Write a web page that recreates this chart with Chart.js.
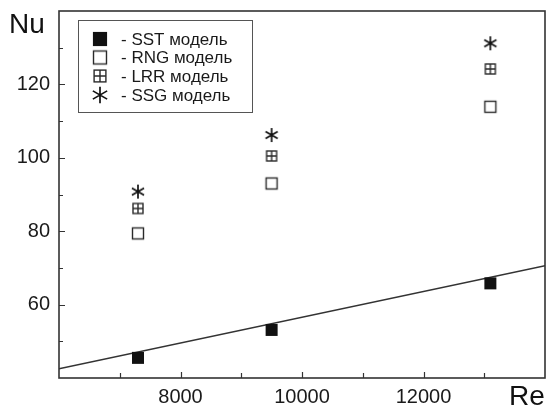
<!DOCTYPE html>
<html>
<head>
<meta charset="utf-8">
<script src="https://cdn.jsdelivr.net/npm/chart.js@4.4.0/dist/chart.umd.min.js"></script>
<style>
  html, body { margin: 0; padding: 0; background: #fff; }
  #wrap { width: 550px; height: 409px; }
</style>
</head>
<body>
<div id="wrap"><canvas id="nuChart" width="550" height="409"></canvas></div>
<script>
// Re numbers of the three runs and Nu from each turbulence model
const re = [7300, 9500, 13100];
const sst = [45.5, 53.1, 65.8];
const rng = [79.4, 93.0, 113.9];
const lrr = [86.2, 100.5, 124.2];
const ssg = [90.8, 106.2, 131.2];

// straight correlation line, ends at the axis limits
const fitRe = [6000, 14000];
const fitNu = [42.5, 70.6];

const xTicks = [8000, 10000, 12000];
const yTicks = [60, 80, 100, 120];

const labels = ['- SST модель', '- RNG модель', '- LRR модель', '- SSG модель'];

const FONT = '"Liberation Sans", Arial, sans-serif';
const INK = '#1a1a1a';

// marker images for the point styles
function marker(kind, k) {
    const c = document.createElement('canvas');
    c.width = 18; c.height = 18;
    const g = c.getContext('2d');
    g.translate(9, 9);
    g.scale(k, k);
    g.strokeStyle = '#2a2a2a';
    g.fillStyle = '#111';
    g.lineWidth = 1.4 / k;
    if (kind === 'fill') {
        g.fillRect(-6, -6, 12, 12);
    } else if (kind === 'open') {
        g.strokeRect(-5.5, -5.5, 11, 11);
    } else if (kind === 'grid') {
        g.strokeRect(-5, -5, 10, 10);
        g.beginPath();
        g.moveTo(0, -5); g.lineTo(0, 5);
        g.moveTo(-5, 0); g.lineTo(5, 0);
        g.stroke();
    } else {
        g.lineWidth = 1.7 / k;
        g.strokeStyle = '#111';
        g.beginPath();
        for (let i = 0; i < 3; i++) {
            const a = Math.PI / 2 + i * Math.PI / 3;
            const dx = Math.cos(a) * 7, dy = Math.sin(a) * 7;
            g.moveTo(-dx, -dy); g.lineTo(dx, dy);
        }
        g.stroke();
    }
    return c;
}

const kinds = ['fill', 'open', 'grid', 'star'];
const styles = kinds.map(k => marker(k, 1));
const keyStyles = kinds.map(k => marker(k, 1.18));

function pts(ys) {
    return re.map((x, i) => ({ x: x, y: ys[i] }));
}

// frame, inward ticks, axis names and the boxed legend
const decor = {
    id: 'decor',
    afterDraw(chart) {
        const ctx = chart.ctx;
        const a = chart.chartArea;
        const xs = chart.scales.x, ys = chart.scales.y;
        ctx.save();
        ctx.strokeStyle = '#333';
        ctx.lineWidth = 1.6;
        ctx.strokeRect(a.left, a.top, a.right - a.left, a.bottom - a.top);

        ctx.lineWidth = 1.2;
        ctx.beginPath();
        const xStep = xTicks[1] - xTicks[0];
        for (let v = xTicks[0] - xStep / 2; v < xs.max; v += xStep / 2) {
            const px = Math.round(xs.getPixelForValue(v)) + 0.5;
            const len = xTicks.includes(v) ? 6 : 5;
            ctx.moveTo(px, a.bottom); ctx.lineTo(px, a.bottom - len);
        }
        const yStep = yTicks[1] - yTicks[0];
        for (let v = yTicks[0] - yStep / 2; v < ys.max; v += yStep / 2) {
            const py = Math.round(ys.getPixelForValue(v)) + 0.5;
            const len = yTicks.includes(v) ? 6 : 4;
            ctx.moveTo(a.left, py); ctx.lineTo(a.left + len, py);
        }
        ctx.stroke();

        ctx.fillStyle = '#111';
        ctx.font = '28px ' + FONT;
        ctx.textBaseline = 'alphabetic';
        ctx.textAlign = 'left';
        ctx.fillText('Nu', 9, 33);
        ctx.fillText('Re', 509, 405);

        // legend
        ctx.lineWidth = 1;
        ctx.strokeStyle = '#555';
        ctx.strokeRect(78.5, 20.5, 174, 92);
        ctx.font = '17px ' + FONT;
        ctx.fillStyle = INK;
        ctx.textBaseline = 'middle';
        const rows = [39, 57.5, 76, 95];
        keyStyles.forEach((img, i) => {
            ctx.drawImage(img, 100 - 9, rows[i] - 9);
            ctx.fillText(chart.data.datasets[i].label, 121, rows[i] + 1);
        });
        ctx.restore();
    }
};

function noPad(s) {
    s.paddingTop = 0; s.paddingBottom = 0;
    s.paddingLeft = 0; s.paddingRight = 0;
}

new Chart(document.getElementById('nuChart'), {
    type: 'scatter',
    data: {
        datasets: [
            { label: labels[0], data: pts(sst), pointStyle: styles[0] },
            { label: labels[1], data: pts(rng), pointStyle: styles[1] },
            { label: labels[2], data: pts(lrr), pointStyle: styles[2] },
            { label: labels[3], data: pts(ssg), pointStyle: styles[3] },
            {
                type: 'line',
                label: 'fit',
                data: fitRe.map((x, i) => ({ x: x, y: fitNu[i] })),
                borderColor: '#333',
                borderWidth: 1.4,
                pointRadius: 0,
                fill: false
            }
        ]
    },
    options: {
        responsive: false,
        animation: false,
        layout: { padding: { top: 11, right: 2, bottom: 0, left: 0 } },
        plugins: {
            legend: { display: false },
            tooltip: { enabled: false }
        },
        scales: {
            x: {
                type: 'linear',
                min: 6000,
                max: 14000,
                afterBuildTicks(s) { s.ticks = xTicks.map(v => ({ value: v })); },
                afterFit(s) { s.height = 31; noPad(s); },
                grid: { display: false, drawTicks: false },
                border: { display: false },
                ticks: {
                    padding: 7,
                    color: INK,
                    font: { family: FONT, size: 20 },
                    maxRotation: 0,
                    callback: v => String(v)
                }
            },
            y: {
                min: 40,
                max: 140,
                afterBuildTicks(s) { s.ticks = yTicks.map(v => ({ value: v })); },
                afterFit(s) { s.width = 59; noPad(s); },
                grid: { display: false, drawTicks: false },
                border: { display: false },
                ticks: {
                    padding: 9,
                    color: INK,
                    font: { family: FONT, size: 20 },
                    callback: v => String(v)
                }
            }
        }
    },
    plugins: [decor]
});
</script>
</body>
</html>
